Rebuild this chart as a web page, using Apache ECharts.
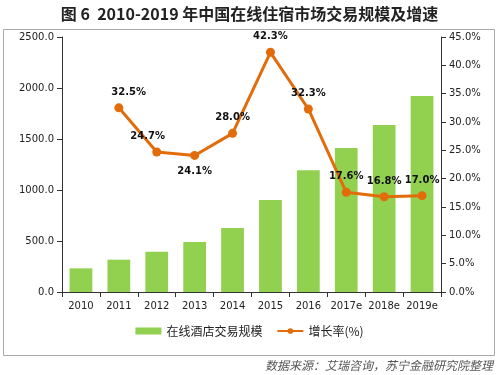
<!DOCTYPE html>
<html><head><meta charset="utf-8">
<script src="https://cdn.jsdelivr.net/npm/echarts@6/dist/echarts.min.js"></script>
<style>html,body{margin:0;padding:0;background:#fff}#c{width:499px;height:375px}</style>
</head><body><div id="c"></div>
<script>
const categories = ['2010','2011','2012','2013','2014','2015','2016','2017e','2018e','2019e'];
const marketSize = [232, 317, 395, 490, 627, 902, 1193, 1412, 1637, 1922];
const growthRate = [null, 32.5, 24.7, 24.1, 28.0, 42.3, 32.3, 17.6, 16.8, 17.0];
const leftTicks = [0, 500, 1000, 1500, 2000, 2500];
const rightTicks = [0, 5, 10, 15, 20, 25, 30, 35, 40, 45];
const titleText = '图 6  2010-2019 年中国在线住宿市场交易规模及增速';
const barName = '在线酒店交易规模';
const lineName = '增长率(%)';
const sourceText = '数据来源：艾瑞咨询，苏宁金融研究院整理';

const chart = echarts.init(document.getElementById('c'), null, {renderer:'canvas'});
const axisFont = {fontFamily:'DejaVu Sans', fontSize:10, color:'#222'};
const labelPos = ['top',[-3,-16],[-22,-16],'bottom','top','top','top','top','top','top'];
chart.setOption({
  animation:false,
  backgroundColor:'#fff',
  title:{text:titleText,left:'center',top:1,textStyle:{fontFamily:'Noto Sans CJK SC',fontWeight:'bold',fontSize:16,color:'#222'}},
  graphic:[
    {type:'rect',shape:{x:3.5,y:29.5,width:491,height:326},style:{fill:'none',stroke:'#aaa',lineWidth:1},silent:true,z:-1},
    {type:'text',right:6,top:359,style:{text:sourceText,font:'italic 12px "Noto Sans CJK SC"',fill:'#555'}}
  ],
  legend:{bottom:33,left:'center',itemGap:14,itemWidth:26,itemHeight:7,textStyle:{fontFamily:'Noto Sans CJK SC',fontSize:12,color:'#222'},
    data:[{name:barName,icon:'rect'},{name:lineName}]},
  grid:{left:62,right:58,top:37,bottom:83},
  xAxis:{type:'category',data:categories,axisLine:{lineStyle:{color:'#333'}},axisTick:{show:true,lineStyle:{color:'#333'}},
    axisLabel:Object.assign({margin:9,interval:0},axisFont)},
  yAxis:[
    {type:'value',min:0,max:2500,interval:500,splitLine:{show:false},axisLine:{show:true,lineStyle:{color:'#333'}},axisTick:{show:true,lineStyle:{color:'#333'}},
      axisLabel:Object.assign({formatter:v=>v.toFixed(1)},axisFont)},
    {type:'value',min:0,max:45,interval:5,splitLine:{show:false},axisLine:{show:true,lineStyle:{color:'#333'}},axisTick:{show:true,lineStyle:{color:'#333'}},
      axisLabel:Object.assign({formatter:v=>v.toFixed(1)+'%'},axisFont)}
  ],
  series:[
    {name:barName,type:'bar',data:marketSize,barWidth:'60%',itemStyle:{color:'#92D050'}},
    {name:lineName,type:'line',yAxisIndex:1,data:growthRate.map((v,i)=>v===null?null:{value:v,label:{position:labelPos[i]}}),
      connectNulls:false,symbol:'circle',symbolSize:9,lineStyle:{color:'#E36C0A',width:3},itemStyle:{color:'#E36C0A'},
      label:{show:true,formatter:p=>p.value.toFixed(1)+'%',fontFamily:'DejaVu Sans',fontWeight:'bold',fontSize:10,color:'#111',distance:6}}
  ]
});
</script></body></html>
